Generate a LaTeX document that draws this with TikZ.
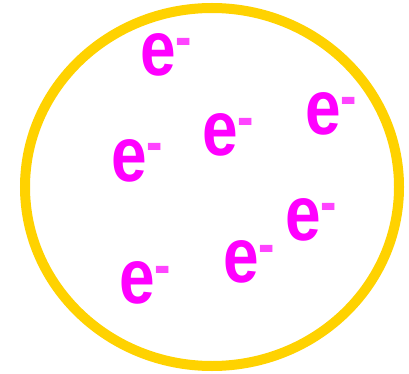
\documentclass[tikz,border=0pt]{standalone}
\usepackage{fontspec}
\setmainfont{Liberation Sans}
\usetikzlibrary{positioning}
\definecolor{ringgold}{HTML}{FFD200}
\definecolor{elecpink}{HTML}{FF00FF}
\definecolor{chargepink}{HTML}{FF44FF}
\newcommand{\echarge}{\raisebox{18pt}{\fontsize{60}{60}\selectfont\color{chargepink}-}}

\begin{document}
\begin{tikzpicture}[
    x=1pt, y=-1pt,
    ring/.style={draw=ringgold, line width=10pt},
    elec/.style={inner sep=0pt, anchor=base west, text=elecpink,
        font=\fontsize{78}{78}\selectfont\bfseries, xscale=0.82}
]
\useasboundingbox (0,0) rectangle (409,374);
\draw[ring] (212,187) ellipse [x radius=187, y radius=179];

\node[elec] (e1) at (140,76) {e\echarge};
\node[elec] (e2) at (202,156) {e\echarge};
\node[elec] (e3) at (305,135) {e\echarge};
\node[elec] (e4) at (111,181) {e\echarge};
\node[elec] (e5) at (285,240) {e\echarge};
\node[elec] (e6) at (223,282) {e\echarge};
\node[elec] (e7) at (119,303) {e\echarge};
\end{tikzpicture}
\end{document}
